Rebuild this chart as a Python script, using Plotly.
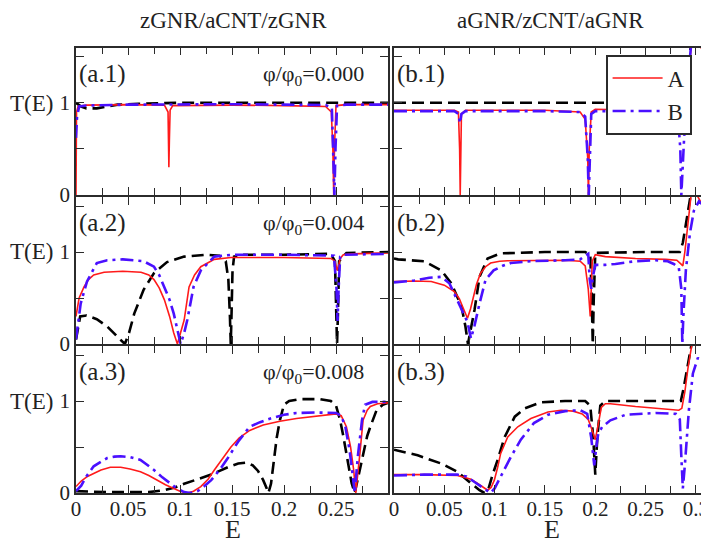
import plotly.graph_objects as go

# ---------------- data ----------------
# panel a.1  (zGNR/aCNT/zGNR, phi/phi0 = 0.000)
A1_A_E = [0, 0.0005, 0.002, 0.01, 0.05, 0.085, 0.0885, 0.0893, 0.0898, 0.0905, 0.093, 0.15, 0.2, 0.24, 0.2455, 0.247, 0.2478, 0.2485, 0.25, 0.26, 0.3]
A1_A_T = [0, 0.9, 0.96, 0.975, 0.98, 0.975, 0.9, 0.3, 0.6, 0.92, 0.97, 0.975, 0.97, 0.96, 0.9, 0.5, 0, 0.5, 0.97, 0.98, 0.98]
A1_B_E = [0, 0.001, 0.003, 0.01, 0.05, 0.1, 0.15, 0.2, 0.24, 0.246, 0.2475, 0.2485, 0.2495, 0.251, 0.26, 0.3]
A1_B_T = [0.62, 0.85, 0.96, 0.97, 0.98, 0.985, 0.985, 0.98, 0.975, 0.95, 0.5, 0, 0.5, 0.97, 0.98, 0.98]
A1_K_E = [0, 0.005, 0.01, 0.02, 0.03, 0.04, 0.06, 0.1, 0.2, 0.25, 0.3]
A1_K_T = [1.0, 0.96, 0.94, 0.94, 0.96, 0.98, 0.99, 1.0, 1.0, 1.0, 1.0]

# panel b.1  (aGNR/zCNT/aGNR, phi/phi0 = 0.000)
B1_A_E = [0, 0.06, 0.064, 0.0652, 0.0658, 0.0664, 0.067, 0.071, 0.15, 0.185, 0.19, 0.1925, 0.1932, 0.194, 0.196, 0.2, 0.25, 0.285, 0.29, 0.293, 0.296, 0.3, 0.305, 0.313]
B1_A_T = [0.92, 0.92, 0.9, 0.5, 0, 0.5, 0.88, 0.92, 0.92, 0.9, 0.82, 0.4, 0, 0.5, 0.9, 0.93, 0.92, 0.91, 0.95, 1.3, 1.7, 1.75, 1.6, 1.45]
B1_B_E = [0, 0.06, 0.064, 0.0656, 0.067, 0.071, 0.15, 0.185, 0.19, 0.1925, 0.1935, 0.1945, 0.196, 0.2, 0.25, 0.282, 0.2845, 0.2855, 0.287, 0.29, 0.295, 0.3, 0.313]
B1_B_T = [0.91, 0.91, 0.88, 0.78, 0.88, 0.91, 0.91, 0.9, 0.85, 0.4, 0, 0.4, 0.88, 0.91, 0.91, 0.88, 0.5, 0, 0.3, 1.0, 1.6, 1.7, 1.5]
B1_K_E = [0, 0.1, 0.2, 0.28, 0.287, 0.29, 0.293, 0.296, 0.313]
B1_K_T = [1, 1, 1, 1, 1.0, 1.2, 1.5, 1.7, 1.6]

# panel a.2  (phi/phi0 = 0.004)
A2_A_E = [0, 0.003, 0.0077, 0.012, 0.017, 0.027, 0.045, 0.0625, 0.07, 0.075, 0.08, 0.085, 0.09, 0.094, 0.0975, 0.101, 0.104, 0.1087, 0.114, 0.12, 0.133, 0.149, 0.2, 0.245, 0.249, 0.251, 0.2525, 0.254, 0.257, 0.265, 0.3]
A2_A_T = [0.3, 0.5, 0.62, 0.7, 0.75, 0.78, 0.79, 0.78, 0.75, 0.7, 0.61, 0.48, 0.3, 0.12, 0.0, 0.15, 0.26, 0.62, 0.75, 0.84, 0.92, 0.94, 0.94, 0.93, 0.9, 0.8, 0.85, 0.93, 0.97, 0.98, 0.99]
A2_B_E = [0, 0.002, 0.0045, 0.0106, 0.02, 0.03, 0.045, 0.065, 0.075, 0.08, 0.085, 0.09, 0.094, 0.0975, 0.1006, 0.104, 0.107, 0.113, 0.12, 0.133, 0.15, 0.2, 0.248, 0.2505, 0.2515, 0.2525, 0.254, 0.257, 0.3]
A2_B_T = [0.05, 0.25, 0.44, 0.68, 0.88, 0.91, 0.92, 0.9, 0.84, 0.75, 0.62, 0.48, 0.33, 0.15, 0.0, 0.12, 0.26, 0.62, 0.8, 0.95, 0.97, 0.97, 0.96, 0.6, 0.25, 0.6, 0.95, 0.97, 0.98]
A2_K_E = [0, 0.004, 0.01, 0.02, 0.03, 0.038, 0.043, 0.047, 0.051, 0.056, 0.065, 0.075, 0.0875, 0.104, 0.125, 0.138, 0.144, 0.1465, 0.148, 0.1488, 0.1495, 0.1505, 0.152, 0.16, 0.2, 0.245, 0.249, 0.2503, 0.251, 0.2518, 0.253, 0.26, 0.3]
A2_K_T = [0.05, 0.3, 0.31, 0.27, 0.19, 0.1, 0.04, 0.0, 0.12, 0.33, 0.59, 0.77, 0.89, 0.95, 0.97, 0.96, 0.9, 0.7, 0.3, 0.0, 0.3, 0.8, 0.95, 0.97, 0.97, 0.98, 0.9, 0.3, 0.0, 0.3, 0.9, 0.99, 1.0]

# panel b.2  (phi/phi0 = 0.004)
B2_A_E = [0, 0.02, 0.037, 0.05, 0.06, 0.065, 0.068, 0.071, 0.073, 0.076, 0.079, 0.082, 0.086, 0.091, 0.096, 0.105, 0.113, 0.14, 0.17, 0.185, 0.19, 0.193, 0.195, 0.197, 0.2, 0.21, 0.24, 0.27, 0.281, 0.285, 0.287, 0.289, 0.292, 0.295, 0.298, 0.302, 0.307, 0.313]
B2_A_T = [0.68, 0.685, 0.68, 0.64, 0.57, 0.49, 0.41, 0.33, 0.28, 0.38, 0.51, 0.65, 0.77, 0.84, 0.88, 0.9, 0.905, 0.91, 0.91, 0.9, 0.85, 0.6, 0.3, 0.9, 0.97, 0.95, 0.93, 0.92, 0.91, 0.87, 0.85, 1.0, 1.3, 1.6, 1.7, 1.6, 1.5, 1.45]
B2_B_E = [0, 0.02, 0.035, 0.047, 0.055, 0.063, 0.068, 0.073, 0.0765, 0.08, 0.085, 0.091, 0.099, 0.108, 0.116, 0.136, 0.17, 0.185, 0.19, 0.193, 0.1945, 0.196, 0.198, 0.2, 0.21, 0.22, 0.24, 0.26, 0.272, 0.278, 0.283, 0.2855, 0.2865, 0.2875, 0.29, 0.294, 0.298, 0.303, 0.308, 0.313]
B2_B_T = [0.67, 0.69, 0.72, 0.73, 0.66, 0.48, 0.37, 0.24, 0.06, 0.2, 0.44, 0.7, 0.8, 0.85, 0.88, 0.9, 0.91, 0.92, 0.96, 0.98, 0.7, 0.6, 0.75, 0.86, 0.86, 0.87, 0.9, 0.91, 0.9, 0.87, 0.83, 0.6, 0.0, 0.3, 0.8, 1.2, 1.45, 1.55, 1.5, 1.45]
B2_K_E = [0, 0.004, 0.03, 0.047, 0.057, 0.067, 0.071, 0.0735, 0.077, 0.08, 0.085, 0.093, 0.106, 0.15, 0.19, 0.195, 0.1965, 0.1975, 0.1985, 0.2, 0.25, 0.284, 0.287, 0.29, 0.293, 0.296, 0.3, 0.306, 0.313]
B2_K_T = [0.93, 0.92, 0.9, 0.8, 0.66, 0.41, 0.19, 0.0, 0.2, 0.37, 0.73, 0.93, 0.985, 1.0, 1.0, 0.97, 0.5, 0.0, 0.5, 0.99, 1.0, 1.0, 1.1, 1.3, 1.5, 1.7, 1.75, 1.7, 1.65]

# panel a.3  (phi/phi0 = 0.008)
A3_A_E = [0, 0.005, 0.011, 0.024, 0.033, 0.043, 0.052, 0.062, 0.07, 0.078, 0.086, 0.094, 0.1, 0.107, 0.113, 0.12, 0.127, 0.133, 0.14, 0.149, 0.157, 0.167, 0.18, 0.196, 0.212, 0.228, 0.24, 0.25, 0.255, 0.26, 0.264, 0.267, 0.269, 0.271, 0.273, 0.276, 0.28, 0.283, 0.29, 0.3]
A3_A_T = [0.07, 0.13, 0.18, 0.25, 0.28, 0.28, 0.26, 0.23, 0.19, 0.14, 0.09, 0.05, 0.02, 0.0, 0.02, 0.07, 0.15, 0.25, 0.36, 0.5, 0.6, 0.68, 0.74, 0.78, 0.81, 0.83, 0.85, 0.86, 0.84, 0.72, 0.5, 0.25, 0.0, 0.2, 0.43, 0.79, 0.9, 0.94, 0.97, 0.98]
A3_B_E = [0, 0.005, 0.01, 0.017, 0.024, 0.03, 0.037, 0.043, 0.052, 0.062, 0.068, 0.075, 0.083, 0.091, 0.097, 0.104, 0.11, 0.117, 0.123, 0.13, 0.138, 0.146, 0.156, 0.167, 0.177, 0.187, 0.2, 0.212, 0.23, 0.25, 0.255, 0.259, 0.263, 0.266, 0.268, 0.271, 0.275, 0.278, 0.285, 0.3]
A3_B_T = [0.02, 0.08, 0.18, 0.29, 0.34, 0.38, 0.395, 0.4, 0.39, 0.36, 0.31, 0.25, 0.17, 0.1, 0.05, 0.01, 0.0, 0.02, 0.07, 0.14, 0.25, 0.38, 0.56, 0.72, 0.77, 0.81, 0.85, 0.87, 0.875, 0.87, 0.84, 0.72, 0.47, 0.2, 0.0, 0.4, 0.79, 0.96, 0.99, 0.99]
A3_K_E = [0, 0.01, 0.03, 0.05, 0.07, 0.085, 0.095, 0.104, 0.117, 0.13, 0.146, 0.156, 0.164, 0.17, 0.175, 0.18, 0.183, 0.185, 0.1875, 0.19, 0.193, 0.196, 0.2, 0.205, 0.215, 0.235, 0.245, 0.25, 0.254, 0.257, 0.26, 0.263, 0.265, 0.268, 0.272, 0.276, 0.28, 0.283, 0.289, 0.295, 0.3]
A3_K_T = [0.02, 0.015, 0.01, 0.01, 0.01, 0.03, 0.06, 0.1, 0.15, 0.2, 0.28, 0.32, 0.33, 0.3, 0.24, 0.14, 0.06, 0.0, 0.1, 0.32, 0.6, 0.79, 0.96, 1.0, 1.02, 1.02, 1.0, 0.95, 0.79, 0.62, 0.43, 0.22, 0.11, 0.0, 0.2, 0.43, 0.62, 0.72, 0.9, 0.96, 0.98]

# panel b.3  (phi/phi0 = 0.008)
B3_A_E = [0, 0.03, 0.063, 0.0765, 0.085, 0.09, 0.093, 0.0965, 0.0997, 0.103, 0.106, 0.113, 0.123, 0.136, 0.153, 0.166, 0.178, 0.187, 0.193, 0.197, 0.2, 0.203, 0.206, 0.21, 0.215, 0.24, 0.27, 0.283, 0.286, 0.289, 0.292, 0.295, 0.298, 0.302, 0.307, 0.313]
B3_A_T = [0.2, 0.2, 0.19, 0.15, 0.09, 0.05, 0.03, 0.06, 0.14, 0.28, 0.43, 0.61, 0.72, 0.81, 0.88, 0.9, 0.89, 0.86, 0.8, 0.68, 0.58, 0.75, 0.93, 0.97, 0.97, 0.94, 0.91, 0.9, 0.92, 1.1, 1.35, 1.6, 1.75, 1.7, 1.6, 1.5]
B3_B_E = [0, 0.03, 0.063, 0.072, 0.08, 0.088, 0.096, 0.1, 0.106, 0.116, 0.126, 0.139, 0.153, 0.17, 0.185, 0.192, 0.196, 0.199, 0.201, 0.203, 0.207, 0.215, 0.23, 0.26, 0.28, 0.284, 0.2855, 0.287, 0.289, 0.293, 0.297, 0.302, 0.306, 0.313]
B3_B_T = [0.19, 0.2, 0.2, 0.18, 0.12, 0.06, 0.0, 0.05, 0.18, 0.39, 0.58, 0.76, 0.85, 0.89, 0.9, 0.86, 0.6, 0.3, 0.5, 0.65, 0.72, 0.79, 0.85, 0.87, 0.86, 0.8, 0.4, 0.05, 0.3, 0.9, 1.3, 1.47, 1.42, 1.38]
B3_K_E = [0, 0.0235, 0.047, 0.063, 0.0765, 0.085, 0.09, 0.094, 0.098, 0.103, 0.11, 0.12, 0.13, 0.146, 0.17, 0.19, 0.195, 0.198, 0.2, 0.202, 0.205, 0.21, 0.25, 0.285, 0.288, 0.291, 0.294, 0.297, 0.3, 0.313]
B3_K_T = [0.47, 0.41, 0.32, 0.23, 0.105, 0.03, 0.0, 0.05, 0.2, 0.36, 0.61, 0.83, 0.92, 0.985, 1.0, 1.0, 0.95, 0.6, 0.2, 0.6, 0.95, 1.0, 1.0, 1.0, 1.15, 1.35, 1.55, 1.7, 1.75, 1.7]

COL_TITLES = ["zGNR/aCNT/zGNR", "aGNR/zCNT/aGNR"]
PANEL_LABELS = [["(a.1)", "(b.1)"], ["(a.2)", "(b.2)"], ["(a.3)", "(b.3)"]]
FLUX_LABELS = ["0.000", "0.004", "0.008"]
X_TICKS_LEFT = [0, 0.05, 0.1, 0.15, 0.2, 0.25]
X_TICKTEXT_LEFT = ["0", "0.05", "0.1", "0.15", "0.2", "0.25"]
X_TICKS_RIGHT = [0, 0.05, 0.1, 0.15, 0.2, 0.25, 0.3]
X_TICKTEXT_RIGHT = ["0", "0.05", "0.1", "0.15", "0.2", "0.25", "0.3"]
Y_TICKS = [0, 1]
Y_TICKTEXT = ["0", "1"]
SERIES_NAMES = ["A", "B"]

PANELS = [
    [(A1_K_E, A1_K_T, A1_A_E, A1_A_T, A1_B_E, A1_B_T), (B1_K_E, B1_K_T, B1_A_E, B1_A_T, B1_B_E, B1_B_T)],
    [(A2_K_E, A2_K_T, A2_A_E, A2_A_T, A2_B_E, A2_B_T), (B2_K_E, B2_K_T, B2_A_E, B2_A_T, B2_B_E, B2_B_T)],
    [(A3_K_E, A3_K_T, A3_A_E, A3_A_T, A3_B_E, A3_B_T), (B3_K_E, B3_K_T, B3_A_E, B3_A_T, B3_B_E, B3_B_T)],
]
for row in PANELS:
    for p in row:
        for i in range(0, 6, 2):
            assert len(p[i]) == len(p[i + 1]), (len(p[i]), len(p[i + 1]))

# ---------------- layout geometry ----------------
# The page body has an 8px margin, so the figure is drawn 8px smaller and all
# positions below are given in window pixels and converted.
OFF = 8
WIN_W, WIN_H = 709, 543
W, H = WIN_W - OFF, WIN_H - OFF
FONT = "Liberation Serif"
RED = "#ff1a1a"
BLUE = "#4a10ff"
FRAME = "#2b2b2b"
TXT = "#222222"

def px_x(p):
    return (p - OFF) / W

def px_y(p):
    return 1 - (p - OFF) / H

COL_X = [(76, 388), (394, 709)]
COL_RANGE = [[0, 0.3], [0, 0.313]]
ROW_Y = [(47.5, 195), (196.8, 344), (345.8, 493)]

fig = go.Figure()
layout = dict(
    width=W, height=H,
    margin=dict(l=0, r=0, t=0, b=0, autoexpand=False),
    paper_bgcolor="white", plot_bgcolor="white",
    font=dict(family=FONT, color="black"),
    showlegend=True,
)
annotations = []

for r in range(3):
    for c in range(2):
        idx = r * 2 + c + 1
        xa = "x" if idx == 1 else f"x{idx}"
        ya = "y" if idx == 1 else f"y{idx}"
        kE, kT, aE, aT, bE, bT = PANELS[r][c]
        fig.add_trace(go.Scatter(x=kE, y=kT, xaxis=xa, yaxis=ya, mode="lines",
                                 line=dict(color="black", width=2.6, dash="12px,6px"),
                                 showlegend=False, hoverinfo="skip"))
        fig.add_trace(go.Scatter(x=aE, y=aT, xaxis=xa, yaxis=ya, mode="lines",
                                 line=dict(color=RED, width=1.6),
                                 name=SERIES_NAMES[0], legendgroup="A",
                                 showlegend=(idx == 2), hoverinfo="skip"))
        fig.add_trace(go.Scatter(x=bE, y=bT, xaxis=xa, yaxis=ya, mode="lines",
                                 line=dict(color=BLUE, width=2.6, dash="13px,5px,3px,5px"),
                                 name=SERIES_NAMES[1], legendgroup="B",
                                 showlegend=(idx == 2), hoverinfo="skip"))
        x0, x1 = COL_X[c]
        ytop, ybot = ROW_Y[r]
        xkey = "xaxis" if idx == 1 else f"xaxis{idx}"
        ykey = "yaxis" if idx == 1 else f"yaxis{idx}"
        layout[xkey] = dict(
            domain=[px_x(x0), min(1.0, px_x(x1))], range=COL_RANGE[c], anchor=ya, automargin=False,
            showline=True, linecolor=FRAME, linewidth=1.6, mirror="ticks",
            ticks="inside", ticklen=8, tickwidth=1.4, tickcolor=FRAME,
            tickvals=(X_TICKS_LEFT if c == 0 else X_TICKS_RIGHT),
            ticktext=(X_TICKTEXT_LEFT if c == 0 else X_TICKTEXT_RIGHT),
            showticklabels=(r == 2), ticklabeloverflow="allow", ticklabelstandoff=-4,
            tickfont=dict(family=FONT, size=21, color=TXT),
            minor=dict(dtick=0.025, tick0=0, ticks="inside", ticklen=7, tickwidth=1.4, tickcolor=FRAME, showgrid=False),
            showgrid=False, zeroline=False, fixedrange=True,
        )
        layout[ykey] = dict(
            domain=[px_y(ybot), px_y(ytop)], range=[0, 1.6], anchor=xa, automargin=False,
            showline=True, linecolor=FRAME, linewidth=1.6,
            mirror=("ticks" if c == 0 else False),
            ticks="inside", ticklen=8, tickwidth=1.4, tickcolor=FRAME,
            tickvals=Y_TICKS, ticktext=Y_TICKTEXT,
            showticklabels=(c == 0),
            tickfont=dict(family=FONT, size=21, color=TXT),
            minor=dict(dtick=0.5, tick0=0, ticks="inside", ticklen=8, tickwidth=1.4, tickcolor=FRAME, showgrid=False),
            showgrid=False, zeroline=False, fixedrange=True,
        )
        # panel label
        annotations.append(dict(text=PANEL_LABELS[r][c], xref="paper", yref="paper",
                                x=px_x(x0 + 1), y=px_y(ytop + 26), xanchor="left", yanchor="middle",
                                showarrow=False, font=dict(family=FONT, size=25, color=TXT)))
        if c == 0:
            annotations.append(dict(text=f"φ/φ<sub>0</sub>={FLUX_LABELS[r]}", xref="paper", yref="paper",
                                    x=px_x(366), y=px_y(ytop + 27), xanchor="right", yanchor="middle",
                                    showarrow=False, font=dict(family=FONT, size=22, color=TXT)))
            annotations.append(dict(text="T(E)", xref="paper", yref="paper",
                                    x=px_x(31), y=px_y(ybot - 92), xanchor="center", yanchor="middle",
                                    showarrow=False, font=dict(family=FONT, size=23, color=TXT)))

for c, t in enumerate(COL_TITLES):
    annotations.append(dict(text=t, xref="paper", yref="paper",
                            x=px_x([233, 550][c]), y=px_y(20), xanchor="center", yanchor="middle",
                            showarrow=False, font=dict(family=FONT, size=23, color=TXT)))
    annotations.append(dict(text="E", xref="paper", yref="paper",
                            x=px_x([233, 552][c]), y=px_y(529), xanchor="center", yanchor="middle",
                            showarrow=False, font=dict(family=FONT, size=26, color=TXT)))

layout["annotations"] = annotations
layout["legend"] = dict(
    x=px_x(606), y=px_y(55), xanchor="left", yanchor="top",
    bgcolor="white", bordercolor=FRAME, borderwidth=1.6,
    font=dict(family=FONT, size=23, color=TXT),
    itemwidth=50, tracegroupgap=0, traceorder="grouped",
)
fig.update_layout(**layout)
fig.write_html("out.html")
